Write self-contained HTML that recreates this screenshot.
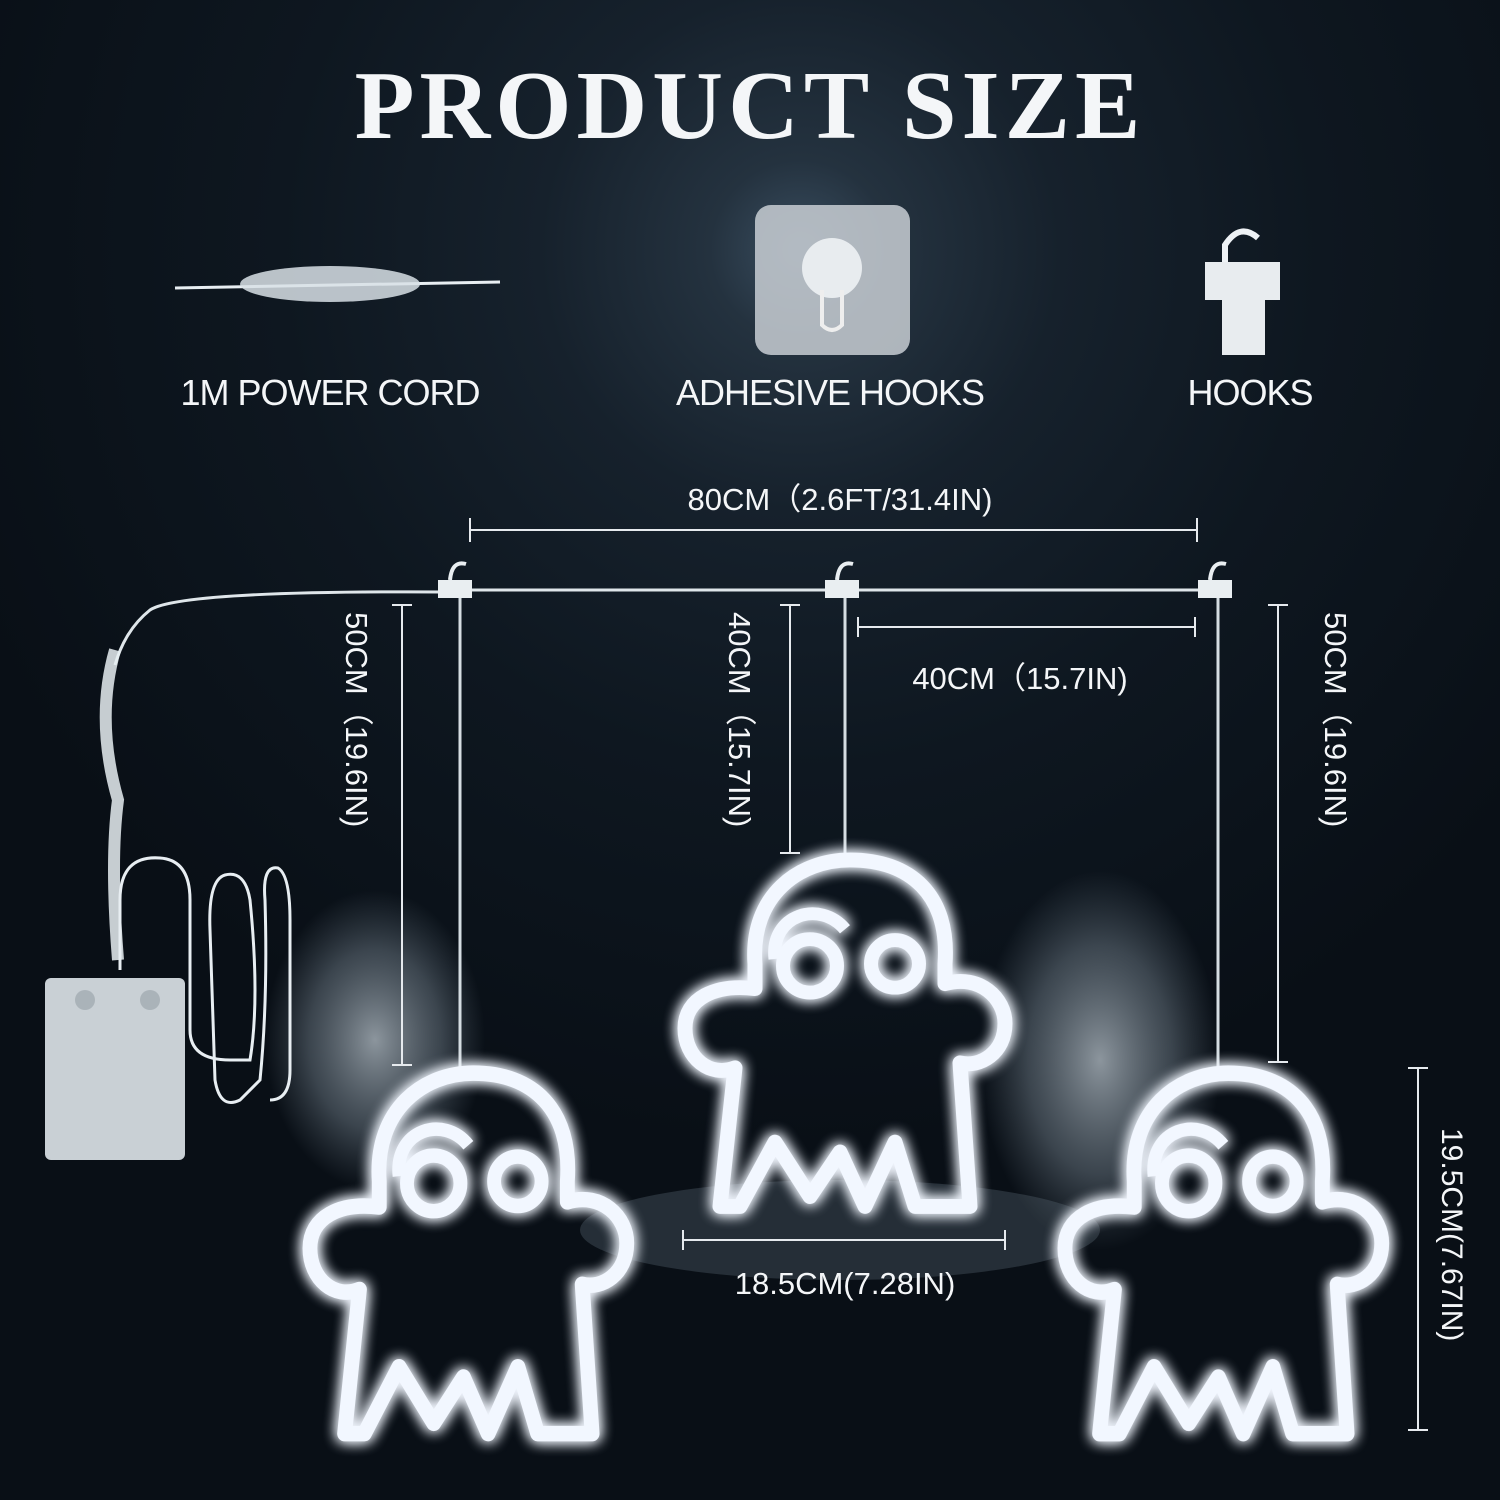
<!DOCTYPE html>
<html><head><meta charset="utf-8"><style>
html,body{margin:0;padding:0;background:#0c141d;}
#c{position:relative;width:1500px;height:1500px;overflow:hidden;
background:radial-gradient(circle at 800px 250px,#3a4e60 0,#24323f 90px,#16212c 260px,#0e1720 520px,#090f16 900px);}
.t{position:absolute;color:#f4f6f8;font-family:"Liberation Sans",sans-serif;white-space:nowrap;}
</style></head><body><div id="c">
<svg width="1500" height="1500" style="position:absolute;left:0;top:0">
<defs>
<filter id="g" x="-20%" y="-20%" width="140%" height="140%"><feGaussianBlur stdDeviation="7" result="b"/><feMerge><feMergeNode in="b"/><feMergeNode in="b"/><feMergeNode in="SourceGraphic"/></feMerge></filter>
<radialGradient id="bg1"><stop offset="0" stop-color="#a3adb5" stop-opacity=".85"/><stop offset="0.6" stop-color="#6d7a85" stop-opacity=".5"/><stop offset="1" stop-color="#5d6a75" stop-opacity="0"/></radialGradient>
<g id="gh">
<path d="M75 110 C70 40 120 5 170 5 C230 5 270 40 265 110 L265 130 C300 120 325 145 325 170 C325 200 300 215 280 210 L290 355 L235 355 L215 290 L185 355 L160 300 L130 345 L95 290 L60 355 L40 355 L55 215 C30 225 5 205 5 175 C5 145 35 130 75 135 Z" fill="none" stroke="#f2f7ff" stroke-width="15" stroke-linejoin="round"/>
<circle cx="130" cy="112" r="27" fill="none" stroke="#f2f7ff" stroke-width="14"/>
<circle cx="215" cy="110" r="24" fill="none" stroke="#f2f7ff" stroke-width="14"/>
<path d="M95 105 C90 60 140 45 165 75" fill="none" stroke="#f2f7ff" stroke-width="13"/>
</g>
</defs>
<ellipse cx="375" cy="1040" rx="110" ry="150" fill="url(#bg1)"/>
<ellipse cx="1100" cy="1060" rx="120" ry="190" fill="url(#bg1)"/>
<ellipse cx="840" cy="1230" rx="260" ry="50" fill="#5d6a75" opacity=".35"/>
<path d="M175 288 L500 282" stroke="#e8eef2" stroke-width="3"/>
<ellipse cx="330" cy="284" rx="90" ry="18" fill="#d8e0e6" opacity=".85"/>
<rect x="755" y="205" width="155" height="150" rx="16" fill="#c8ced3" opacity=".85"/>
<circle cx="832" cy="268" r="30" fill="#e8ecef"/>
<path d="M822 290 L822 325 Q832 335 842 325 L842 290" fill="none" stroke="#eee" stroke-width="4"/>
<path d="M1225 262 L1225 245 Q1240 222 1258 238" fill="none" stroke="#eef2f5" stroke-width="6"/>
<path d="M1205 262 L1280 262 L1280 300 L1265 300 L1265 355 L1222 355 L1222 300 L1205 300 Z" fill="#e8ecef"/>
<path d="M455 590 L1218 590" stroke="#dfe6ea" stroke-width="3"/>
<path d="M455 592 Q180 590 150 610 Q125 630 115 665" stroke="#dfe6ea" stroke-width="3" fill="none"/>
<path d="M115 650 Q95 720 118 800 Q110 860 118 960" stroke="#e8eef2" stroke-width="12" fill="none" opacity=".85"/>
<path d="M120 970 L120 900 Q120 855 160 858 Q190 860 190 900 L190 1030 Q190 1060 230 1060 L250 1060 Q260 1000 250 900 Q245 870 225 875 Q208 880 210 930 L215 1080 Q220 1110 240 1100 L260 1080 Q268 1000 265 900 Q262 865 278 868 Q290 875 290 920 L290 1070 Q290 1100 270 1100" stroke="#e8eef2" stroke-width="3" fill="none"/>
<rect x="45" y="978" width="140" height="182" rx="6" fill="#c9d0d5"/>
<circle cx="85" cy="1000" r="10" fill="#aab3b9"/><circle cx="150" cy="1000" r="10" fill="#aab3b9"/>
<g fill="#e9eef1"><rect x="438" y="580" width="34" height="18"/><rect x="825" y="580" width="34" height="18"/><rect x="1198" y="580" width="34" height="18"/></g>
<g fill="none" stroke="#e9eef1" stroke-width="4"><path d="M450 580 Q452 560 466 564"/><path d="M837 580 Q839 560 853 564"/><path d="M1210 580 Q1212 560 1226 564"/></g>
<g stroke="#d5dde2" stroke-width="3"><line x1="460" y1="598" x2="460" y2="1072"/><line x1="845" y1="598" x2="845" y2="858"/><line x1="1218" y1="598" x2="1218" y2="1068"/></g>
<g stroke="#e6eaee" stroke-width="2">
<line x1="470" y1="530" x2="1197" y2="530"/><line x1="470" y1="518" x2="470" y2="542"/><line x1="1197" y1="518" x2="1197" y2="542"/>
<line x1="858" y1="627" x2="1195" y2="627"/><line x1="858" y1="617" x2="858" y2="637"/><line x1="1195" y1="617" x2="1195" y2="637"/>
<line x1="402" y1="605" x2="402" y2="1065"/><line x1="392" y1="605" x2="412" y2="605"/><line x1="392" y1="1065" x2="412" y2="1065"/>
<line x1="790" y1="605" x2="790" y2="853"/><line x1="780" y1="605" x2="800" y2="605"/><line x1="780" y1="853" x2="800" y2="853"/>
<line x1="1278" y1="605" x2="1278" y2="1062"/><line x1="1268" y1="605" x2="1288" y2="605"/><line x1="1268" y1="1062" x2="1288" y2="1062"/>
<line x1="683" y1="1240" x2="1005" y2="1240"/><line x1="683" y1="1230" x2="683" y2="1250"/><line x1="1005" y1="1230" x2="1005" y2="1250"/>
<line x1="1418" y1="1068" x2="1418" y2="1430"/><line x1="1408" y1="1068" x2="1428" y2="1068"/><line x1="1408" y1="1430" x2="1428" y2="1430"/>
</g>
<g filter="url(#g)">
<use href="#gh" transform="translate(305,1068) scale(0.99,1.03)"/>
<use href="#gh" transform="translate(680,855) scale(1,0.99)"/>
<use href="#gh" transform="translate(1060,1068) scale(0.99,1.03)"/>
</g>
</svg>
<div class="t" style="left:0;width:1500px;text-align:center;top:50px;font-family:'Liberation Serif',serif;font-weight:bold;font-size:98px;letter-spacing:5px">PRODUCT SIZE</div>
<div class="t" style="left:130px;width:400px;text-align:center;top:372px;font-size:36px;letter-spacing:-1px">1M POWER CORD</div>
<div class="t" style="left:630px;width:400px;text-align:center;top:372px;font-size:36px;letter-spacing:-1px">ADHESIVE HOOKS</div>
<div class="t" style="left:1100px;width:300px;text-align:center;top:372px;font-size:36px;letter-spacing:-1px">HOOKS</div>
<div class="t" style="left:540px;width:600px;text-align:center;top:474px;font-size:31px">80CM（2.6FT/31.4IN)</div>
<div class="t" style="left:820px;width:400px;text-align:center;top:653px;font-size:31px">40CM（15.7IN)</div>
<div class="t" style="left:645px;width:400px;text-align:center;top:1266px;font-size:31px">18.5CM(7.28IN)</div>
<div class="t" style="left:382px;top:612px;font-size:31px;transform-origin:0 0;transform:rotate(90deg);">50CM（19.6IN)</div>
<div class="t" style="left:765px;top:612px;font-size:31px;transform-origin:0 0;transform:rotate(90deg);">40CM（15.7IN)</div>
<div class="t" style="left:1361px;top:612px;font-size:31px;transform-origin:0 0;transform:rotate(90deg);">50CM（19.6IN)</div>
<div class="t" style="left:1468px;top:1128px;font-size:30px;transform-origin:0 0;transform:rotate(90deg);">19.5CM(7.67IN)</div>
</div></body></html>
